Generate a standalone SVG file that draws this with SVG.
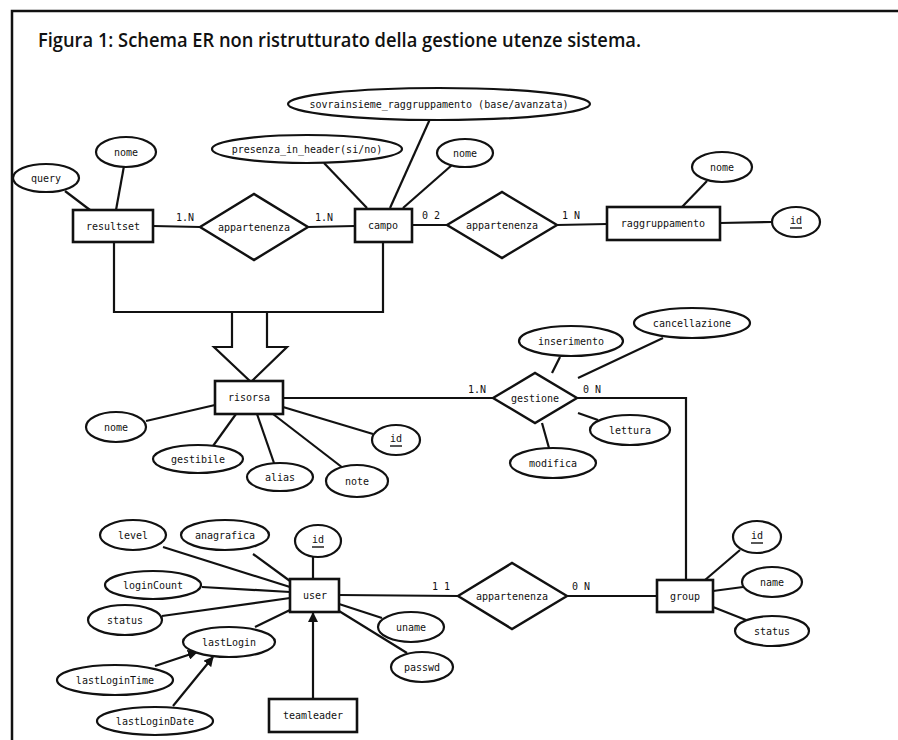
<svg xmlns="http://www.w3.org/2000/svg" width="898" height="740" viewBox="0 0 898 740">
<defs>
<style>
.e{fill:#fff;stroke:#111;stroke-width:2.2}
.r{fill:#fff;stroke:#111;stroke-width:2.6}
.d{fill:#fff;stroke:#111;stroke-width:2.4}
.l{fill:none;stroke:#111;stroke-width:2.2}
.t{font-family:"DejaVu Sans Mono","Liberation Mono",monospace;font-size:10px;fill:#111;text-anchor:middle;dominant-baseline:central}
.c{font-family:"DejaVu Sans Mono","Liberation Mono",monospace;font-size:10px;fill:#111}
.u{stroke:#111;stroke-width:1.4}
</style>
<marker id="ah" viewBox="0 0 10 10" refX="9" refY="5" markerWidth="10" markerHeight="10" markerUnits="userSpaceOnUse" orient="auto">
<path d="M0,0 L10,5 L0,10 z" fill="#111"/>
</marker>
</defs>
<rect width="898" height="740" fill="#fff"/>
<path d="M12,740 V11 H898" fill="none" stroke="#111" stroke-width="2.5"/>
<text x="38" y="47" font-family="'Open Sans','Noto Sans',sans-serif" font-weight="600" font-size="19.5" textLength="603" lengthAdjust="spacingAndGlyphs" fill="#111">Figura 1: Schema ER non ristrutturato della gestione utenze sistema.</text>

<g id="connectors">
<line class="l" x1="153" y1="226" x2="200" y2="227"/>
<line class="l" x1="308" y1="227" x2="355" y2="226"/>
<line class="l" x1="65" y1="191" x2="90" y2="210"/>
<line class="l" x1="124" y1="166" x2="116" y2="210"/>
<line class="l" x1="324" y1="163" x2="367" y2="208"/>
<line class="l" x1="430" y1="119" x2="390" y2="208"/>
<line class="l" x1="452" y1="165" x2="403" y2="208"/>
<line class="l" x1="412" y1="225" x2="447" y2="225"/>
<line class="l" x1="557" y1="225" x2="607" y2="224"/>
<line class="l" x1="707" y1="181" x2="682" y2="207"/>
<line class="l" x1="720" y1="223" x2="772" y2="222"/>
<path class="l" d="M114,242 V312 H383 V242"/>
<path class="l" d="M232,312 V347 H214 L251,382 L287,347 H267 V312"/>
<line class="l" x1="283" y1="398" x2="493" y2="398"/>
<path class="l" d="M577,398 H686 V580"/>
<line class="l" x1="560" y1="357" x2="552" y2="373"/>
<line class="l" x1="663" y1="338" x2="578" y2="378"/>
<line class="l" x1="578" y1="413" x2="598" y2="420"/>
<line class="l" x1="542" y1="423" x2="549" y2="448"/>
<line class="l" x1="146" y1="421" x2="215" y2="405"/>
<line class="l" x1="213" y1="446" x2="236" y2="414"/>
<line class="l" x1="274" y1="463" x2="257" y2="414"/>
<line class="l" x1="343" y1="468" x2="273" y2="414"/>
<line class="l" x1="373" y1="434" x2="283" y2="407"/>
<line class="l" x1="163" y1="547" x2="290" y2="587"/>
<line class="l" x1="253" y1="554" x2="290" y2="581"/>
<line class="l" x1="313" y1="557" x2="313" y2="579"/>
<line class="l" x1="202" y1="587" x2="290" y2="592"/>
<line class="l" x1="162" y1="616" x2="290" y2="598"/>
<line class="l" x1="255" y1="627" x2="290" y2="610"/>
<line class="l" x1="155" y1="666" x2="197" y2="652" marker-end="url(#ah)"/>
<line class="l" x1="173" y1="706" x2="213" y2="657" marker-end="url(#ah)"/>
<line class="l" x1="313" y1="699" x2="313" y2="613" marker-end="url(#ah)"/>
<line class="l" x1="339" y1="604" x2="382" y2="618"/>
<line class="l" x1="339" y1="611" x2="407" y2="653"/>
<line class="l" x1="339" y1="595" x2="458" y2="596"/>
<line class="l" x1="567" y1="596" x2="657" y2="596"/>
<line class="l" x1="740" y1="550" x2="705" y2="580"/>
<line class="l" x1="743" y1="587" x2="713" y2="591"/>
<line class="l" x1="713" y1="607" x2="746" y2="620"/>
<text class="c" x="176" y="221">1.N</text>
<text class="c" x="315" y="221">1.N</text>
<text class="c" x="422" y="219">0 2</text>
<text class="c" x="562" y="219">1 N</text>
<text class="c" x="468" y="393">1.N</text>
<text class="c" x="583" y="393">0 N</text>
<text class="c" x="432" y="590">1 1</text>
<text class="c" x="572" y="590">0 N</text>
</g>

<g id="resultset"><rect class="r" x="73" y="210" width="80" height="32"/><text class="t" x="113" y="226">resultset</text></g>
<g id="resultset-query"><ellipse class="e" cx="46" cy="178" rx="33" ry="14"/><text class="t" x="46" y="178">query</text></g>
<g id="resultset-nome"><ellipse class="e" cx="126" cy="152" rx="30" ry="15"/><text class="t" x="126" y="152">nome</text></g>
<g id="rel-appartenenza-1"><polygon class="d" points="200,227 254,194 308,227 254,260"/><text class="t" x="254" y="227">appartenenza</text></g>
<g id="campo"><rect class="r" x="355" y="209" width="57" height="33"/><text class="t" x="383" y="225">campo</text></g>
<g id="campo-sovrainsieme"><ellipse class="e" cx="439" cy="104" rx="151" ry="16"/><text class="t" x="439" y="104">sovrainsieme_raggruppamento (base/avanzata)</text></g>
<g id="campo-presenza"><ellipse class="e" cx="307" cy="149" rx="95" ry="14"/><text class="t" x="307" y="149">presenza_in_header(si/no)</text></g>
<g id="campo-nome"><ellipse class="e" cx="465" cy="153" rx="28" ry="14"/><text class="t" x="465" y="153">nome</text></g>
<g id="rel-appartenenza-2"><polygon class="d" points="447,225 502,192 557,225 502,258"/><text class="t" x="502" y="225">appartenenza</text></g>
<g id="raggruppamento"><rect class="r" x="607" y="207" width="113" height="33"/><text class="t" x="663" y="223">raggruppamento</text></g>
<g id="raggruppamento-nome"><ellipse class="e" cx="722" cy="167" rx="30" ry="15"/><text class="t" x="722" y="167">nome</text></g>
<g id="raggruppamento-id"><ellipse class="e" cx="796" cy="222" rx="24" ry="15"/><text class="t" x="796" y="220">id</text><line class="u" x1="790" y1="228" x2="802" y2="228"/></g>

<g id="risorsa"><rect class="r" x="215" y="381" width="68" height="33"/><text class="t" x="249" y="397">risorsa</text></g>
<g id="risorsa-nome"><ellipse class="e" cx="116" cy="427" rx="30" ry="15"/><text class="t" x="116" y="427">nome</text></g>
<g id="risorsa-gestibile"><ellipse class="e" cx="198" cy="459" rx="45" ry="14"/><text class="t" x="198" y="459">gestibile</text></g>
<g id="risorsa-alias"><ellipse class="e" cx="280" cy="477" rx="33" ry="14"/><text class="t" x="280" y="477">alias</text></g>
<g id="risorsa-note"><ellipse class="e" cx="357" cy="481" rx="31" ry="16"/><text class="t" x="357" y="481">note</text></g>
<g id="risorsa-id"><ellipse class="e" cx="396" cy="440" rx="24" ry="15"/><text class="t" x="396" y="438">id</text><line class="u" x1="390" y1="446" x2="402" y2="446"/></g>
<g id="rel-gestione"><polygon class="d" points="493,398 535,373 577,398 535,423"/><text class="t" x="535" y="398">gestione</text></g>
<g id="gestione-inserimento"><ellipse class="e" cx="571" cy="341" rx="52" ry="15"/><text class="t" x="571" y="341">inserimento</text></g>
<g id="gestione-cancellazione"><ellipse class="e" cx="692" cy="323" rx="58" ry="15"/><text class="t" x="692" y="323">cancellazione</text></g>
<g id="gestione-lettura"><ellipse class="e" cx="630" cy="430" rx="40" ry="15"/><text class="t" x="630" y="430">lettura</text></g>
<g id="gestione-modifica"><ellipse class="e" cx="553" cy="463" rx="43" ry="15"/><text class="t" x="553" y="463">modifica</text></g>

<g id="user"><rect class="r" x="290" y="579" width="49" height="33"/><text class="t" x="315" y="595">user</text></g>
<g id="user-level"><ellipse class="e" cx="133" cy="535" rx="33" ry="15"/><text class="t" x="133" y="535">level</text></g>
<g id="user-anagrafica"><ellipse class="e" cx="225" cy="535" rx="44" ry="15"/><text class="t" x="225" y="535">anagrafica</text></g>
<g id="user-id"><ellipse class="e" cx="318" cy="541" rx="23" ry="16"/><text class="t" x="318" y="539">id</text><line class="u" x1="312" y1="547" x2="324" y2="547"/></g>
<g id="user-loginCount"><ellipse class="e" cx="153" cy="585" rx="48" ry="14"/><text class="t" x="153" y="585">loginCount</text></g>
<g id="user-status"><ellipse class="e" cx="125" cy="620" rx="37" ry="15"/><text class="t" x="125" y="620">status</text></g>
<g id="user-lastLogin"><ellipse class="e" cx="229" cy="642" rx="46" ry="15"/><text class="t" x="229" y="642">lastLogin</text></g>
<g id="user-lastLoginTime"><ellipse class="e" cx="115" cy="680" rx="58" ry="15"/><text class="t" x="115" y="680">lastLoginTime</text></g>
<g id="user-lastLoginDate"><ellipse class="e" cx="155" cy="721" rx="58" ry="14"/><text class="t" x="155" y="721">lastLoginDate</text></g>
<g id="user-uname"><ellipse class="e" cx="411" cy="627" rx="33" ry="15"/><text class="t" x="411" y="627">uname</text></g>
<g id="user-passwd"><ellipse class="e" cx="422" cy="667" rx="31" ry="15"/><text class="t" x="422" y="667">passwd</text></g>
<g id="teamleader"><rect class="r" x="269" y="699" width="88" height="33"/><text class="t" x="313" y="715">teamleader</text></g>
<g id="rel-appartenenza-3"><polygon class="d" points="458,596 512,563 567,596 512,629"/><text class="t" x="512" y="596">appartenenza</text></g>
<g id="group"><rect class="r" x="657" y="580" width="56" height="32"/><text class="t" x="685" y="596">group</text></g>
<g id="group-id"><ellipse class="e" cx="757" cy="537" rx="24" ry="16"/><text class="t" x="757" y="535">id</text><line class="u" x1="751" y1="543" x2="763" y2="543"/></g>
<g id="group-name"><ellipse class="e" cx="772" cy="582" rx="30" ry="15"/><text class="t" x="772" y="582">name</text></g>
<g id="group-status"><ellipse class="e" cx="772" cy="631" rx="37" ry="15"/><text class="t" x="772" y="631">status</text></g>
</svg>
